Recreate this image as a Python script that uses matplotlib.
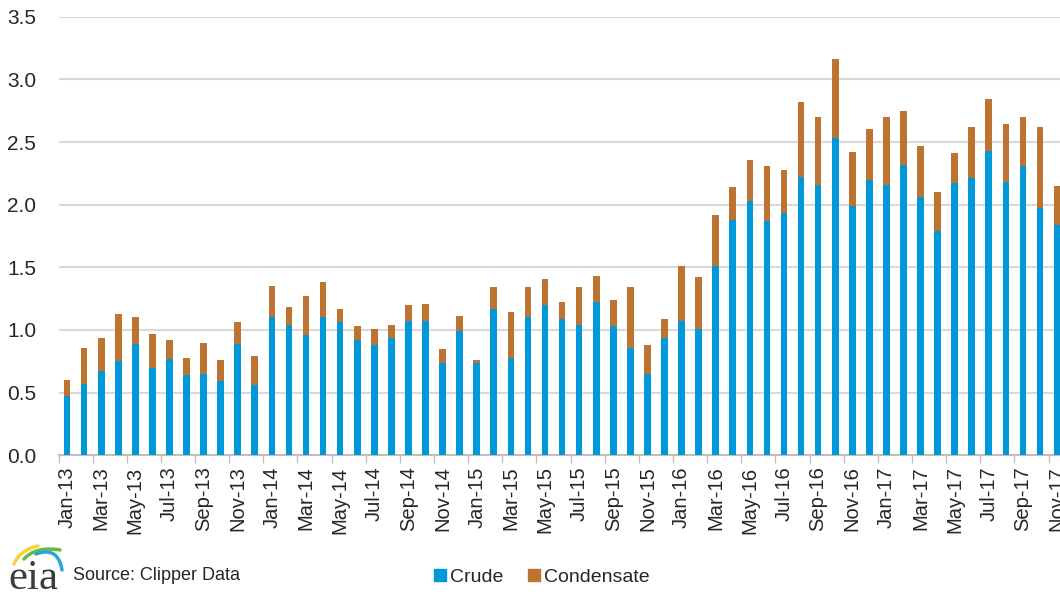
import numpy as np
import matplotlib
matplotlib.use('Agg')
from matplotlib import pyplot as plt
from matplotlib.lines import Line2D

months = ['Jan', 'Feb', 'Mar', 'Apr', 'May', 'Jun',
          'Jul', 'Aug', 'Sep', 'Oct', 'Nov', 'Dec']
labels = ['%s-%d' % (m, y) for y in range(13, 18) for m in months][:59]

# crude exports and crude+condensate total, million b/d
crude = [0.47, 0.57, 0.67, 0.75, 0.89, 0.70, 0.77, 0.64, 0.65, 0.59, 0.89, 0.56,
         1.10, 1.04, 0.96, 1.10, 1.06, 0.92, 0.88, 0.94, 1.07, 1.07, 0.74, 0.99,
         0.74, 1.17, 0.78, 1.10, 1.20, 1.09, 1.04, 1.22, 1.03, 0.86, 0.65, 0.94,
         1.07, 1.01, 1.51, 1.88, 2.03, 1.87, 1.93, 2.22, 2.16, 2.53, 1.99, 2.20,
         2.16, 2.32, 2.06, 1.79, 2.17, 2.21, 2.43, 2.18, 2.31, 1.97, 1.84]
total = [0.60, 0.86, 0.94, 1.13, 1.10, 0.97, 0.92, 0.78, 0.90, 0.76, 1.06, 0.79,
         1.35, 1.18, 1.27, 1.38, 1.17, 1.03, 1.01, 1.04, 1.20, 1.21, 0.85, 1.11,
         0.76, 1.34, 1.14, 1.34, 1.41, 1.22, 1.34, 1.43, 1.24, 1.34, 0.88, 1.09,
         1.51, 1.42, 1.92, 2.14, 2.36, 2.31, 2.28, 2.82, 2.70, 3.16, 2.42, 2.60,
         2.70, 2.75, 2.47, 2.10, 2.41, 2.62, 2.84, 2.64, 2.70, 2.62, 2.15]
condensate = [t - c for t, c in zip(total, crude)]

blue = '#0098d8'
orange = '#bd7430'
txt = '#262626'
font = 'Liberation Sans'

fig = plt.figure(figsize=(10.6, 5.92), dpi=100)
ax = fig.add_axes([58.5 / 1060, 136.7 / 592, 1001.5 / 1060, 438.6 / 592])

x = np.arange(len(labels))
ax.bar(x, crude, width=0.39, color=blue, zorder=3)
ax.bar(x, condensate, width=0.39, bottom=crude, color=orange, zorder=3)

ax.set_xlim(-0.5, 58.17)
ax.set_ylim(0, 3.5)
ax.set_yticks(np.arange(0, 3.51, 0.5))
ax.set_yticklabels(['%.1f' % v for v in np.arange(0, 3.51, 0.5)],
                   fontsize=15, color=txt, family=font)
ax.yaxis.grid(True, color='#d9d9d9', linewidth=1.5, zorder=0)
ax.tick_params(axis='y', length=0, pad=16)

ax.set_xticks(x[::2])
ax.set_xticklabels(labels[::2], rotation=90, fontsize=14.5, color=txt, family=font)
ax.set_xticks(np.arange(-0.5, 59, 2), minor=True)
ax.tick_params(axis='x', which='major', length=0, pad=8)
ax.tick_params(axis='x', which='minor', length=6, color='#bfbfbf', width=1)

for s in ['top', 'right', 'left']:
    ax.spines[s].set_visible(False)
ax.spines['bottom'].set_color('#bfbfbf')
ax.spines['bottom'].set_linewidth(1.5)

handles = [Line2D([], [], marker='s', linestyle='none', color=blue, markersize=8),
           Line2D([], [], marker='s', linestyle='none', color=orange, markersize=8)]
fig.legend(handles, ['Crude', 'Condensate'], loc='center', ncol=2,
           bbox_to_anchor=(541 / 1060, 1 - 577 / 592), frameon=False,
           prop={'family': font, 'size': 14}, handletextpad=0.1,
           columnspacing=1.2, handlelength=0.8, labelcolor=txt)

fig.text(73 / 1060, 1 - 576 / 592, 'Source: Clipper Data', fontsize=13,
         family=font, color=txt, va='center')

# eia logo
lg = fig.add_axes([0, 0, 80 / 1060, 52 / 592])
lg.set_xlim(0, 80)
lg.set_ylim(52, 0)
lg.axis('off')
lg.text(8, 49, 'eia', family='Liberation Serif', fontsize=31, color='#3c3c3c',
        va='baseline', ha='left')
t = np.linspace(0, 1, 50)


def curve(p0, p1, p2, color, lw):
    bx = (1 - t) ** 2 * p0[0] + 2 * (1 - t) * t * p1[0] + t ** 2 * p2[0]
    by = (1 - t) ** 2 * p0[1] + 2 * (1 - t) * t * p1[1] + t ** 2 * p2[1]
    lg.plot(bx, by, color=color, lw=lw, solid_capstyle='round')


curve((14, 24), (20, 10), (38, 6), '#f5d33a', 2.5)
curve((24, 19), (36, 6), (60, 10), '#6bb844', 2.5)
curve((36, 14), (58, 6), (62, 30), '#2aa4dc', 2.5)

fig.savefig('out.png', dpi=100)
